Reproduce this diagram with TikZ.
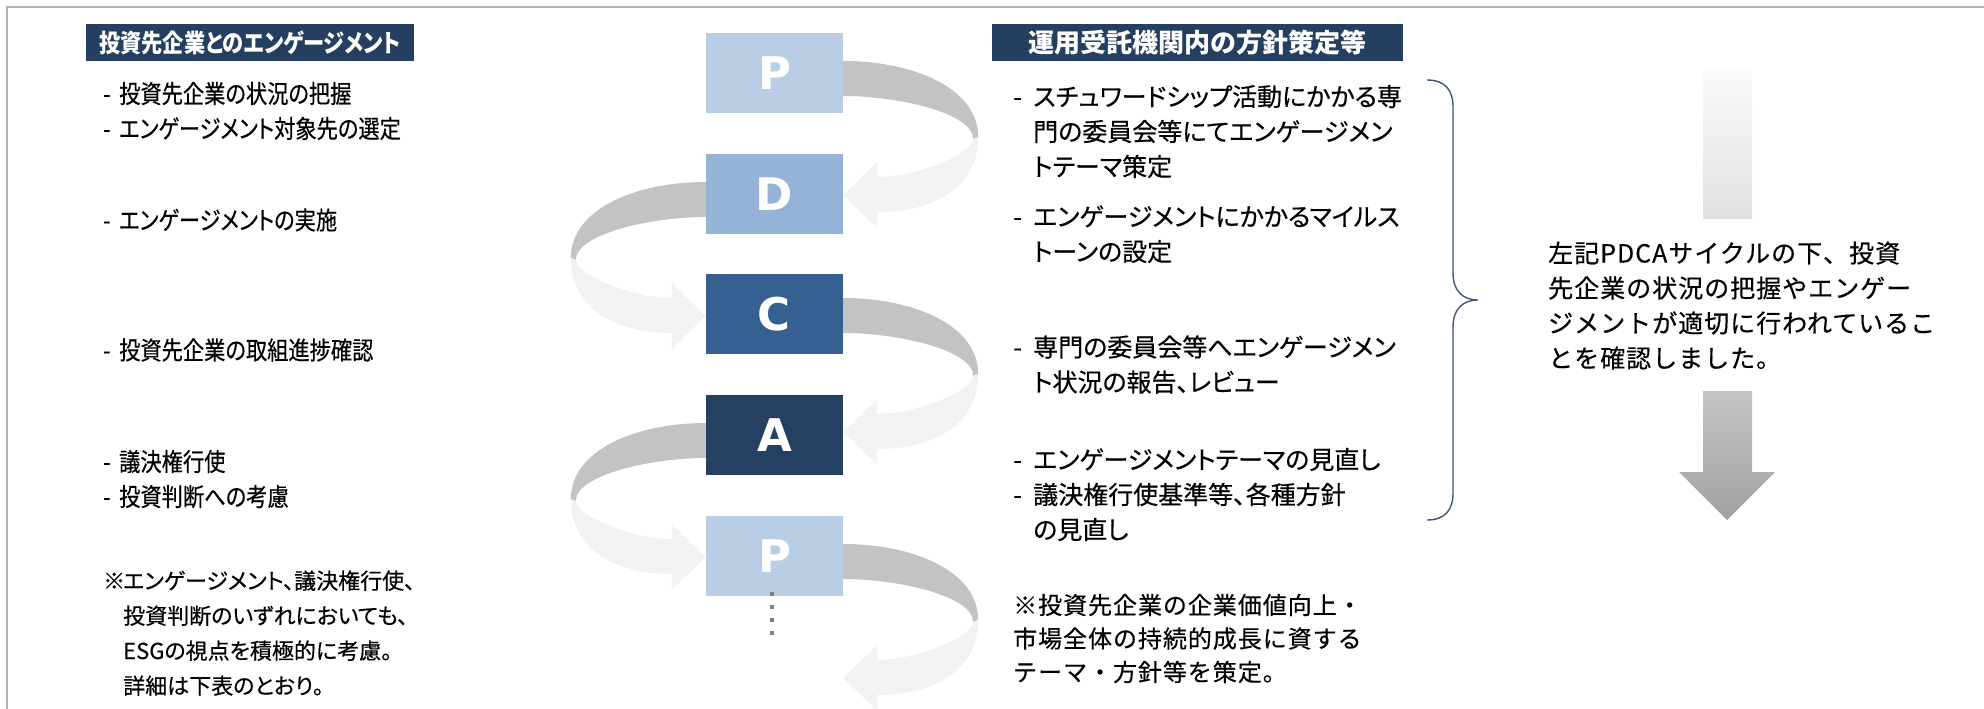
\documentclass[tikz,border=0pt]{standalone}
\usepackage{fontspec}
\usetikzlibrary{backgrounds}
\newfontfamily\jpL[FakeStretch=0.85,FakeBold=0.4,RawFeature=+palt]{Noto Sans CJK JP}
\newfontfamily\jpLH[FakeStretch=0.85,RawFeature=+palt]{Noto Sans CJK JP}
\newfontfamily\jpP[FakeBold=0.4,RawFeature=+palt]{Noto Sans CJK JP}
\newfontfamily\jpW[FakeBold=0.4,LetterSpace=4]{Noto Sans CJK JP}
\newfontfamily\jpN{Noto Sans CJK JP}
\newfontfamily\latinbold{DejaVu Sans}
\definecolor{navy}{HTML}{243F60}
\definecolor{cP}{HTML}{B9CDE5}
\definecolor{cD}{HTML}{95B3D7}
\definecolor{cC}{HTML}{376092}
\definecolor{cA}{HTML}{254061}
\definecolor{ribdark}{HTML}{C3C3C3}
\definecolor{riblight}{HTML}{F2F2F2}
\definecolor{framegray}{HTML}{B4B4B4}
\definecolor{bracec}{HTML}{3F5678}
\definecolor{dotgray}{HTML}{7F7F7F}
\newcommand\ribbonshape{%
  \fill[ribdark] (-12,-12) -- (0,-12) .. controls (70,-12) and (135,15) .. (135,64)
     -- (130,66) .. controls (130,40) and (55,23) .. (0,23) -- (-12,23) -- cycle;
  \fill[riblight] (135,64) .. controls (135,115) and (90,139) .. (34,139)
     -- (34,155) -- (0,122) -- (34,89) -- (34,104) .. controls (75,104) and (130,80) .. (130,66) -- cycle;
}
\newcommand\dsh[1]{\makebox[#1][l]{-}}
\begin{document}
\begin{tikzpicture}[x=1pt,y=-1pt,
  pdca/.style={minimum width=137pt, minimum height=80pt, inner sep=0pt, text=white,
     font=\latinbold\bfseries\fontsize{45}{45}\selectfont},
  header/.style={fill=navy, text=white, inner sep=0pt, minimum height=37pt},
  txt/.style={anchor=west, inner sep=0pt, align=left},
  leftfont/.style={font=\jpL\fontsize{25}{35}\selectfont},
  rightfont/.style={font=\jpP\fontsize{25}{35}\selectfont}
]
\useasboundingbox (0,0) rectangle (1984,709);
\clip (0,0) rectangle (1984,709);
\draw[framegray, line width=1.5pt] (7,709) -- (7,7) -- (1984,7);

% headers
\node[header, minimum width=328pt, font=\jpLH\bfseries\fontsize{25}{25}\selectfont] (hL) at (250,42.5) {投資先企業とのエンゲージメント};
\node[header, minimum width=411pt, font=\jpN\bfseries\fontsize{26}{26}\selectfont] (hR) at (1197.5,42.5) {運用受託機関内の方針策定等};

% PDCA boxes
\node[pdca, fill=cP] (P1) at (774.5,73) {P};
\node[pdca, fill=cD] (D) at (774.5,194) {D};
\node[pdca, fill=cC] (C) at (774.5,314) {C};
\node[pdca, fill=cA] (A) at (774.5,435) {A};
\node[pdca, fill=cP] (P2) at (774.5,556) {P};

\begin{scope}[on background layer]
  \begin{scope}[shift={(P1.east)}] \ribbonshape \end{scope}
  \begin{scope}[shift={(D.west)}, xscale=-1] \ribbonshape \end{scope}
  \begin{scope}[shift={([yshift=4pt]C.east)}] \ribbonshape \end{scope}
  \begin{scope}[shift={(A.west)}, xscale=-1] \ribbonshape \end{scope}
  \begin{scope}[shift={(P2.east)}] \ribbonshape \end{scope}
\end{scope}

\foreach \yy in {594,607,620,633}
  \fill[dotgray] (769.8,\yy-2.2) rectangle (774.2,\yy+2.2);

% left column
\node[txt, leftfont] (l1) at (103,113.5) {\begin{tabular}{@{}l@{}l@{}}\dsh{16pt}&投資先企業の状況の把握\\\dsh{16pt}&エンゲージメント対象先の選定\end{tabular}};
\node[txt, leftfont] (l2) at (103,220) {\dsh{16pt}エンゲージメントの実施};
\node[txt, leftfont] (l3) at (103,350) {\dsh{16pt}投資先企業の取組進捗確認};
\node[txt, leftfont] (l4) at (103,481.5) {\begin{tabular}{@{}l@{}l@{}}\dsh{16pt}&議決権行使\\\dsh{16pt}&投資判断への考慮\end{tabular}};
\node[txt, font=\jpP\fontsize{22}{35}\selectfont] (l5) at (103,634.5) {\begin{tabular}{@{}l@{}l@{}}\makebox[20pt][l]{※}&エンゲージメント、議決権行使、\\&投資判断のいずれにおいても、\\&ESGの視点を積極的に考慮。\\&詳細は下表のとおり。\end{tabular}};

% right column
\node[txt, rightfont] (r1) at (1013,134) {\begin{tabular}{@{}l@{}l@{}}\dsh{20pt}&スチュワードシップ活動にかかる専\\&門の委員会等にてエンゲージメン\\&トテーマ策定\end{tabular}};
\node[txt, rightfont] (r2) at (1013,236.5) {\begin{tabular}{@{}l@{}l@{}}\dsh{20pt}&エンゲージメントにかかるマイルス\\&トーンの設定\end{tabular}};
\node[txt, rightfont] (r3) at (1013,367) {\begin{tabular}{@{}l@{}l@{}}\dsh{20pt}&専門の委員会等へエンゲージメン\\&ト状況の報告、レビュー\end{tabular}};
\node[txt, rightfont] (r4) at (1013,497) {\begin{tabular}{@{}l@{}l@{}}\dsh{20pt}&エンゲージメントテーマの見直し\\\dsh{20pt}&議決権行使基準等、各種方針\\&の見直し\end{tabular}};
\node[txt, font=\jpW\fontsize{24}{33.5}\selectfont] (r5) at (1013,638.5) {※投資先企業の企業価値向上・\\市場全体の持続的成長に資する\\テーマ・方針等を策定。};

% brace
\draw[bracec, line width=1.4pt] (1427,80) .. controls (1445,80) and (1453,90) .. (1453,107)
  -- (1453,273) .. controls (1453,290) and (1462,300) .. (1478,300)
  .. controls (1462,300) and (1453,310) .. (1453,327)
  -- (1453,493) .. controls (1453,510) and (1445,520) .. (1427,520);

% summary
\node[txt, font=\jpW\fontsize{25}{35}\selectfont] (summ) at (1548,305.5) {左記PDCAサイクルの下、投資\\先企業の状況の把握やエンゲー\\ジメントが適切に行われているこ\\とを確認しました。};

% gradient bar and arrow
\shade[top color=white!98!black, bottom color=white!88!black] (1703,72) rectangle (1752,218);
\shade[top color=white!77!black, bottom color=white!63!black] (1703,391) -- (1752,391) -- (1752,472) -- (1775,472) -- (1727,520) -- (1679,472) -- (1703,472) -- cycle;
\end{tikzpicture}
\end{document}
